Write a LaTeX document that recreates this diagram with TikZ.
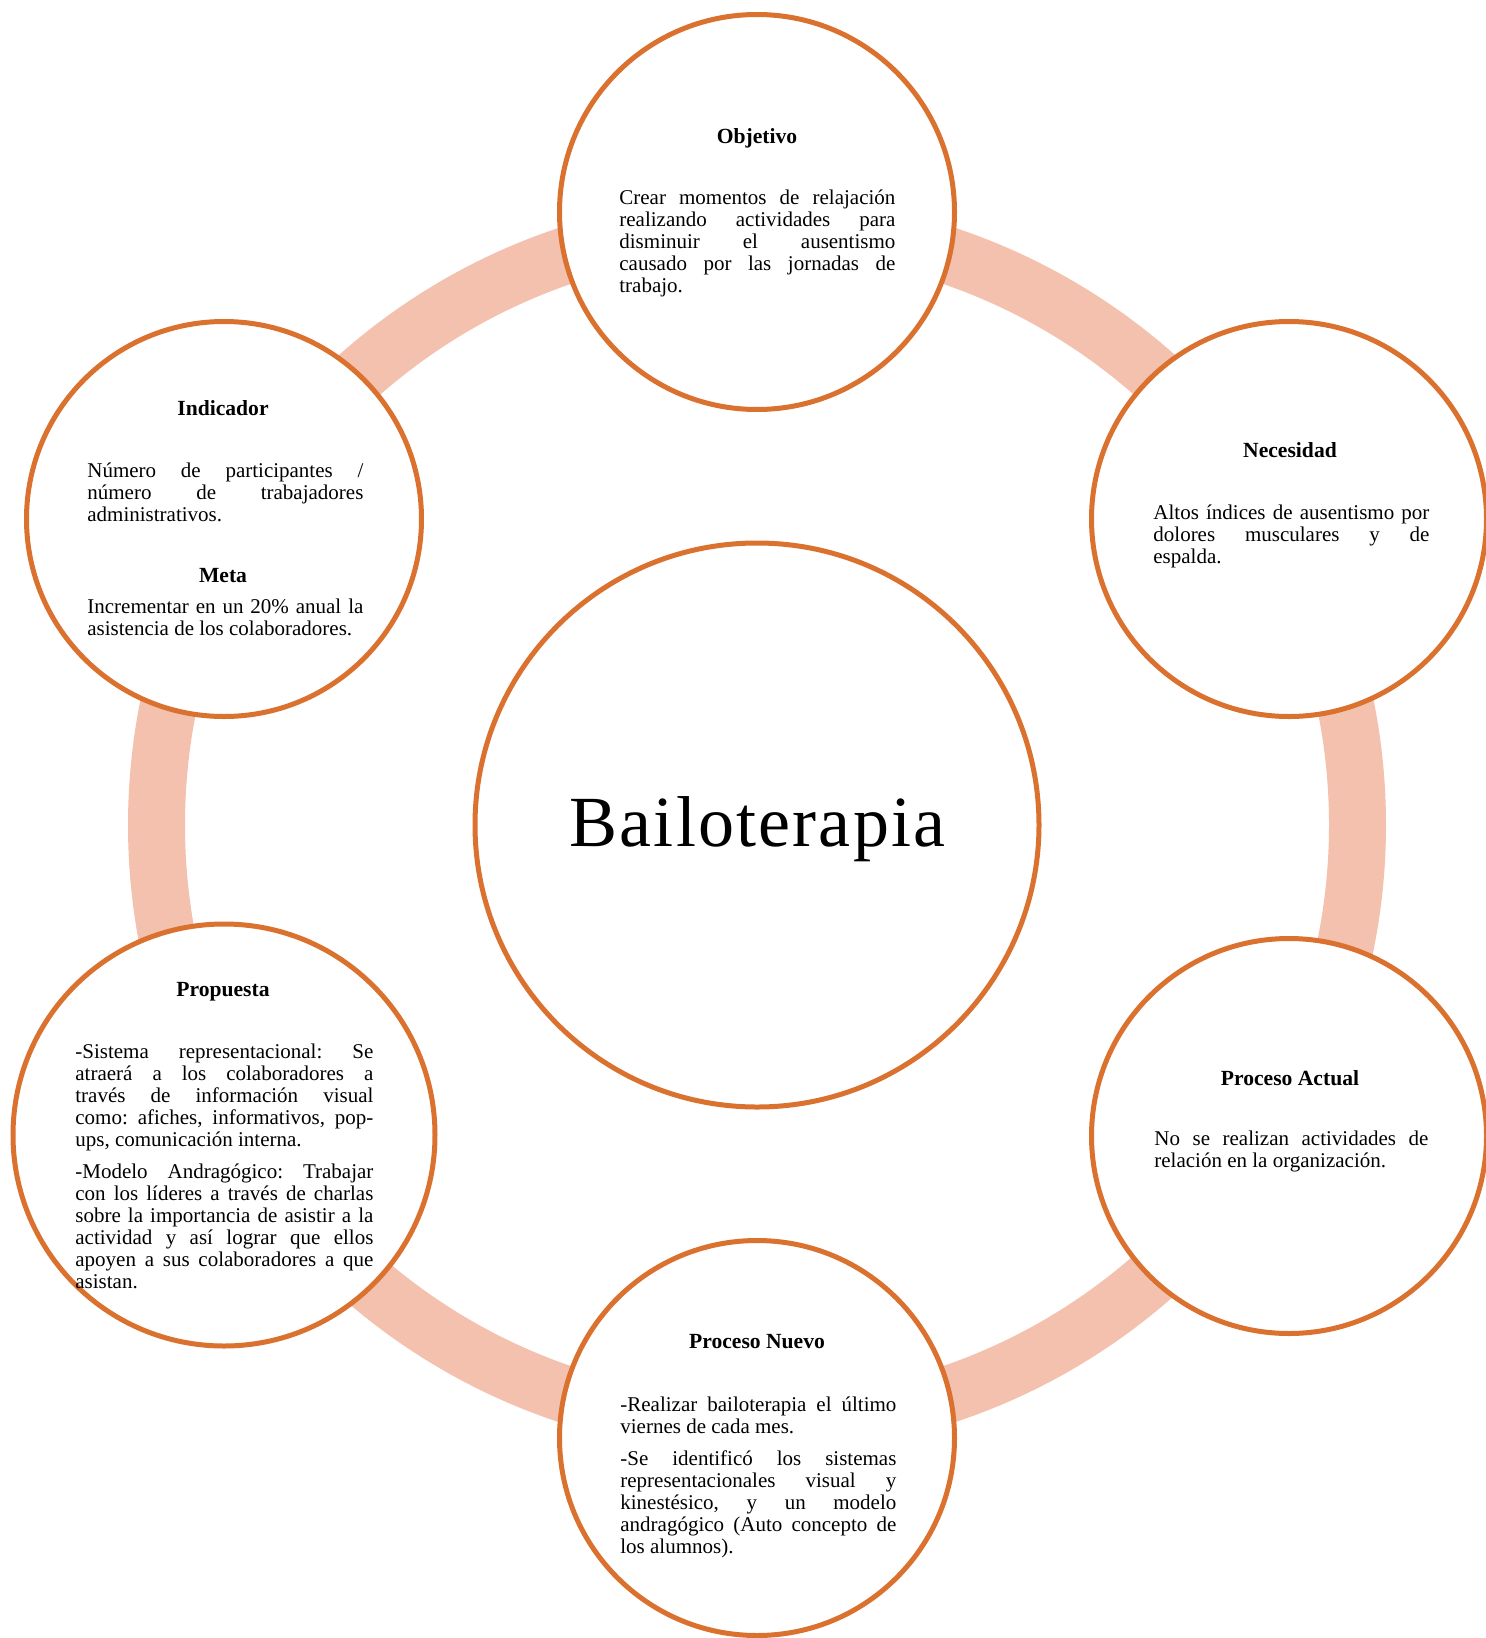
\documentclass[tikz,border=0pt]{standalone}
\usepackage{fontspec}
\setmainfont{Liberation Serif}
\newfontfamily\bigfont[LetterSpace=3.0]{Liberation Serif}
\hbadness=10000
\vbadness=10000
\definecolor{ringc}{HTML}{F4C1AE}
\definecolor{edgec}{HTML}{DA712F}
\newcommand{\bodyfnt}{\fontsize{10.5}{11}\selectfont\frenchspacing\setlength{\parskip}{5pt}\hyphenpenalty=10000 \tolerance=10000 }
\tikzset{
  bubble/.style={circle, draw=edgec, line width=2.5pt, fill=white, inner sep=0pt, minimum size=197.5pt},
  ringstyle/.style={circle, draw=ringc, line width=28.5pt, inner sep=0pt, minimum size=600.5pt},
  ttl/.style={anchor=base, inner sep=0pt, font=\fontsize{10.8}{11}\selectfont\bfseries},
  bodytxt/.style={anchor=base west, inner sep=0pt, text width=138pt, align=justify, font=\bodyfnt},
}
\begin{document}
\begin{tikzpicture}[x=0.5pt, y=-0.5pt]
\useasboundingbox (0,0) rectangle (1486,1638);
\node[ringstyle] (ring) at (757,825) {};
% outer bubbles
\node[bubble] (obj) at (757,212) {};
\node[bubble] (nec) at (1289,519) {};
\node[bubble] (act) at (1289,1136) {};
\node[bubble] (nue) at (757,1438) {};
\node[bubble, minimum size=211pt] (pro) at (224,1135) {};
\node[bubble] (ind) at (224,519) {};
% centre
\node[bubble, minimum size=282pt] (cen) at (757,825) {};
\node[anchor=base, inner sep=0pt, font=\bigfont\fontsize{36}{40}\selectfont] (bai) at (757.5,846) {Bailoterapia};
% Objetivo
\node[ttl] (objt) at (757,143) {Objetivo};
\node[bodytxt] (objb) at (619,204) {Crear momentos de relajación\linebreak realizando actividades para\linebreak disminuir el ausentismo\linebreak causado por las jornadas de\linebreak trabajo.};
% Necesidad
\node[ttl] (nect) at (1290,457) {Necesidad};
\node[bodytxt] (necb) at (1153,519) {Altos índices de ausentismo por\linebreak dolores musculares y de\linebreak espalda.};
% Proceso Actual
\node[ttl] (actt) at (1290,1085) {Proceso Actual};
\node[bodytxt, text width=137pt] (actb) at (1154,1145) {No se realizan actividades de\linebreak relación en la organización.};
% Proceso Nuevo
\node[ttl] (nuet) at (757,1348) {Proceso Nuevo};
\node[bodytxt] (nueb) at (620,1411) {-Realizar bailoterapia el último\linebreak viernes de cada mes.\par -Se identificó los sistemas\linebreak representacionales visual y\linebreak kinestésico, y un modelo\linebreak andragógico (Auto concepto de\linebreak los alumnos).};
% Propuesta
\node[ttl] (prot) at (223,996) {Propuesta};
\node[bodytxt, text width=149pt] (prob) at (75,1058) {-Sistema representacional: Se\linebreak atraerá a los colaboradores a\linebreak través de información visual\linebreak como: afiches, informativos, pop-\linebreak ups, comunicación interna.\par -Modelo Andragógico: Trabajar\linebreak con los líderes a través de charlas\linebreak sobre la importancia de asistir a la\linebreak actividad y así lograr que ellos\linebreak apoyen a sus colaboradores a que\linebreak asistan.};
% Indicador
\node[ttl] (indt) at (223,415) {Indicador};
\node[bodytxt] (indb) at (87,477) {Número de participantes /\linebreak número de trabajadores\linebreak administrativos.};
\node[ttl] (metat) at (223,582) {Meta};
\node[bodytxt] (metab) at (87,613) {Incrementar en un 20\% anual la\linebreak asistencia de los colaboradores.};
\end{tikzpicture}
\end{document}
